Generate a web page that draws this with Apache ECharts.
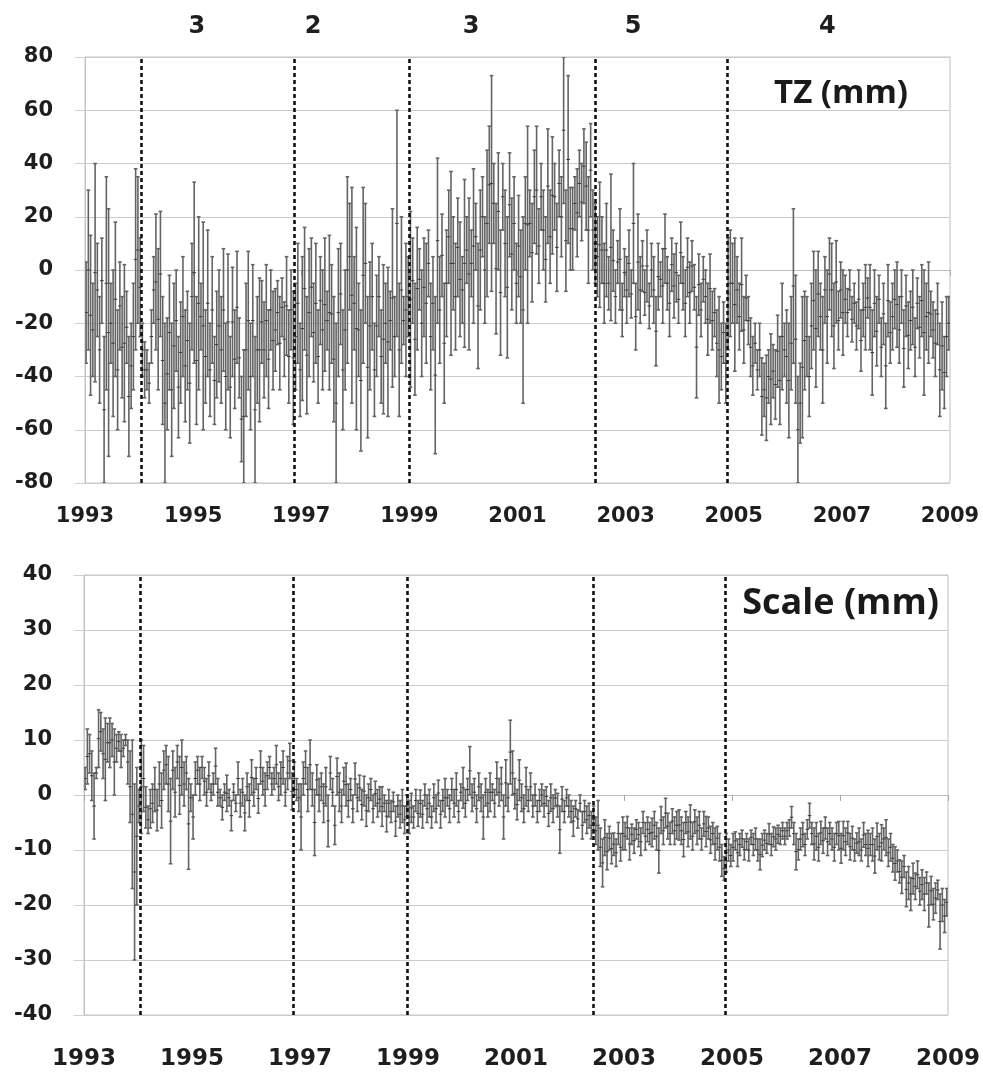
<!DOCTYPE html>
<html><head><meta charset="utf-8">
<script src="https://cdn.jsdelivr.net/npm/echarts@6/dist/echarts.min.js"></script>
<style>html,body{margin:0;padding:0;background:#fff}#c{width:983px;height:1072px}</style>
</head><body><div id="c"></div>
<script>
// ---- data ----
const START_YEAR = 1993.02;   // first observation
const STEP = 1 / 24;          // half-monthly observations

// TZ (mm): [low, high] of each error bar
const tzBars = [
[-35,3],[-30,30],[-47,13],[-40,-5],[-42,40],[-25,10],[-50,-10],[-20,12],[-80,-25],[-45,35],[-70,23],[-35,-5],
[-55,0],[-40,18],[-60,-15],[-30,3],[-48,-10],[-57,2],[-35,-8],[-70,-25],[-52,-20],[-45,-5],[-30,38],[-20,35],
[-25,12],[-40,-20],[-48,-27],[-45,-30],[-50,-35],[-35,-15],[-20,5],[-30,21],[-45,8],[-25,22],[-58,-10],[-80,-20],
[-60,-18],[-45,-2],[-70,-20],[-52,-5],[-38,0],[-63,-25],[-50,-12],[-40,5],[-57,-15],[-45,-8],[-65,-20],[-30,10],
[-35,33],[-58,-10],[-45,20],[-30,-5],[-60,18],[-50,-15],[-40,15],[-55,-20],[-35,5],[-58,-25],[-48,-8],[-42,0],
[-50,-10],[-38,8],[-60,-20],[-45,6],[-63,-25],[-40,1],[-52,-15],[-35,7],[-48,-18],[-72,-40],[-80,-30],[-55,-5],
[-45,7],[-60,-20],[-40,2],[-80,-25],[-50,-10],[-57,-3],[-35,-4],[-48,-12],[-40,2],[-52,-15],[-30,0],[-45,-8],
[-38,-7],[-28,-4],[-45,-10],[-25,-3],[-40,-12],[-32,5],[-50,-15],[-30,0],[-58,-8],[-45,-5],[-35,10],[-55,-20],
[-49,5],[-30,16],[-54,-10],[-40,8],[-25,12],[-42,-5],[-35,10],[-50,-15],[-28,5],[-45,0],[-38,12],[-30,-8],
[-45,13],[-35,2],[-57,-10],[-80,-20],[-40,8],[-28,10],[-60,-15],[-45,0],[-35,35],[-15,25],[-50,31],[-30,5],
[-60,16],[-40,-5],[-68,-15],[-35,31],[-20,25],[-63,-10],[-45,3],[-30,10],[-55,-20],[-40,-2],[-25,5],[-50,-15],
[-54,2],[-35,-5],[-55,1],[-30,-8],[-44,23],[-40,-10],[-25,60],[-55,-5],[-35,20],[-28,-10],[-40,10],[-25,5],
[-44,22],[-20,12],[-47,-5],[-30,16],[-15,8],[-40,0],[-25,12],[-35,10],[-10,15],[-45,-5],[-30,5],[-69,-10],
[-20,42],[-35,5],[-10,21],[-50,-5],[-25,15],[-5,30],[-32,37],[-15,20],[-30,10],[-10,27],[-25,18],[-20,5],
[-29,34],[-5,20],[-30,27],[-10,15],[-20,38],[0,25],[-37,10],[-15,30],[5,35],[-20,20],[-10,45],[10,54],
[-8,73],[10,40],[-24,25],[0,44],[-32,15],[15,40],[-10,30],[-33,20],[5,44],[-15,27],[0,35],[-20,10],
[-10,28],[-20,15],[-50,20],[0,35],[-20,54],[5,30],[-12,25],[10,45],[6,54],[-5,23],[15,40],[0,30],
[-12,20],[10,53],[-5,30],[6,50],[15,40],[-8,25],[20,45],[5,35],[25,80],[-8,30],[10,73],[0,31],
[0,31],[15,35],[5,38],[20,45],[11,40],[25,53],[15,48],[-5,35],[20,55],[0,30],[-5,25],[-10,20],
[-14,33],[-5,20],[-20,10],[-10,25],[-15,5],[-19,36],[-8,15],[-20,0],[-5,11],[-15,23],[-25,-5],[-10,8],
[-20,5],[-10,15],[-18,0],[-5,40],[-30,-5],[-15,21],[-20,5],[-8,11],[-17,0],[-12,15],[-22,-5],[-10,10],
[-20,5],[-36,-10],[-15,10],[-10,3],[-20,8],[-5,21],[-15,5],[-25,0],[-8,12],[-18,6],[-12,10],[-20,-2],
[-5,18],[-15,5],[-25,0],[-10,12],[-20,3],[-8,11],[-15,2],[-48,-10],[-17,6],[-25,-5],[-12,5],[-20,0],
[-32,-5],[-20,6],[-30,-8],[-25,-7],[-40,-15],[-50,-10],[-45,-20],[-35,-12],[-50,-20],[-30,12],[-25,15],[-20,10],
[-38,12],[-20,5],[-30,-5],[-23,12],[-35,-10],[-19,-2],[-28,-10],[-40,-18],[-47,-25],[-35,-20],[-45,-30],[-40,-20],
[-62,-33],[-55,-35],[-64,-32],[-50,-30],[-58,-24],[-48,-28],[-56,-30],[-44,-17],[-58,-25],[-45,-5],[-40,-20],[-50,-15],
[-63,-20],[-45,-10],[-35,23],[-50,-2],[-80,-40],[-65,-35],[-63,-10],[-45,-8],[-40,-10],[-55,-25],[-37,-5],[-30,7],
[-44,0],[-25,7],[-30,-5],[-50,-10],[-20,5],[-35,0],[-15,12],[-25,10],[-37,-5],[-20,11],[-30,-8],[-18,3],
[-32,0],[-20,-2],[-25,-7],[-15,0],[-27,-10],[-20,-5],[-30,-12],[-22,0],[-38,-15],[-25,-5],[-30,2],[-18,-3],
[-30,2],[-47,-15],[-25,0],[-36,-10],[-20,-2],[-40,-18],[-28,-5],[-52,-20],[-25,2],[-35,-12],[-30,-5],[-22,0],
[-29,3],[-35,-10],[-20,0],[-44,-15],[-25,-2],[-37,-12],[-30,-8],[-28,0],[-40,-18],[-22,-3],[-33,-10],[-25,2],
[-47,0],[-30,-5],[-35,3],[-25,-8],[-33,-12],[-40,-15],[-28,-5],[-55,-20],[-45,-12],[-52,-25],[-40,-10],[-30,-10]
];

// Scale (mm): [low, high] of each error bar
const scaleBars = [
[1,5],[2,12],[4,11],[-1,8],[-8,4],[3,5],[5,15.5],[8,15],[3,12],[-1,14],[6,13],[5,14],
[7,13],[0,12],[6,11],[8,11.5],[5,11],[7,10],[9,11],[2,10],[-5,8],[-17,10],[-30,2],[-20,5],
[-5,1],[-7,10],[-3,9],[-6,1.5],[-7,-2],[-6,1],[-5,2],[-3,5],[-6.5,1],[-2,6],[-6,4],[1,8],
[2,9],[-3,7],[-12.5,3],[1,8],[-4,5],[3,9],[-3.5,7],[0,10],[-2,6],[1,7],[-13.5,3],[-3,2],
[-8,0],[0,6],[2,7],[-1,5],[3,7],[0,5],[-2,3],[1,6],[-1,2],[0,4],[2,8.5],[-2,3],
[-2,1],[-4.5,0],[-1,2],[-3,3.6],[-2,1],[-6.5,-1],[-1,2],[-3,0],[0,6],[-4,1],[-2,3],[-6.5,0],
[-1,4],[-4,2],[0,6.4],[-2,3],[1,5],[-3.3,2],[2,8],[0,5],[-2,4],[1,6],[3,7],[0,4],
[1,5],[2,9],[-1,4],[0,6],[2,8],[-2,3],[1,7],[3,9.4],[-2.7,4],[0,6],[-1,3],[-3,2],
[-10,2],[0,6],[2,8],[-3,5],[1,10],[-2,4],[-11,1],[0,5.5],[-3,3],[-1,4],[-5,2],[-2,5],
[-9.4,0],[1,7],[-2,3],[-9,-2],[0,6.7],[-3,4],[-5,1],[0,5],[-2,5.8],[-4,2],[-1,3],[-5,0],
[0,5.8],[-3,2],[-1,3.6],[-4.5,1],[-2,3.4],[-5.7,0],[-3,2],[-1,3],[-5,0],[-2,2.5],[-4,1],[-3,1.5],
[-5.7,1.5],[-3,0],[-6.7,-1],[-4,1],[-5,-1],[-3,0.5],[-7.5,-2],[-4,0],[-6,-1],[-5,1],[-7,-2],[-4,0],
[-7,-1],[-5,0.3],[-6,-2],[-3,1],[-5.7,-1],[-4,0.9],[-6,-1],[-2,2],[-5,0],[-4,1],[-6,-2],[-3,2],
[-5,0],[-2,2.7],[-6,-1],[-3,1],[-4,3],[-2,1],[-5,0],[-1,3],[-4,1],[-2,4],[-5,-1],[-1,2],
[-2.4,5],[-4,1],[-1,3],[0,8.8],[-3,2],[-2,3],[-5,0],[-1,4],[-3,2],[-8,0],[-2,3],[-4,1],
[-3,4],[-1,2],[-4,1],[0,6],[-2,3],[-1,5],[-8,0],[-2,6.4],[-3,2],[2,13.6],[0,8],[-2.5,3],
[-4.5,1],[-1,6.4],[-3,2],[-5,0],[-2,5],[-3,1],[-1,4],[-4,0],[-2,2],[-5,-1],[-3,1],[-2,2],
[-4,0.9],[-2,1.5],[-5.7,-1],[-3,2],[-5,0],[-2.1,1],[-4,0.3],[-10.6,-2],[-3,1.5],[-5,-1],[-2,1],[-4,0],
[-5,-1],[-7.5,-2],[-4,-1],[-6,-2.7],[-3,0],[-8,-3],[-5,-1],[-7,-2],[-6,-1.5],[-8,-3],[-7,-2],[-9,-4],
[-10,-1],[-13,-6],[-16.7,-8],[-11,-4.5],[-13.6,-7],[-10,-5.7],[-12.5,-7],[-11,-6.9],[-13,-8],[-9,-5],[-12,-7],[-10,-4],
[-10,-5],[-8,-3.9],[-11.8,-6],[-9,-5.3],[-10.6,-6],[-8,-4.5],[-9.4,-5],[-11,-6],[-7,-3],[-10,-5],[-8.5,-4],[-9,-5],
[-9.4,-4.2],[-8,-3],[-10,-5],[-14.2,-6],[-7,-2.1],[-9,-4],[-6,-0.6],[-8,-3.3],[-9,-5],[-7,-2.5],[-9,-4],[-8,-3],
[-8.2,-2.7],[-9,-4],[-11.2,-5],[-7,-3],[-9.4,-4],[-8,-1.8],[-10,-5],[-7,-2.7],[-9,-4],[-8,-3],[-10,-6],[-7.5,-3],
[-9.4,-3.9],[-8,-4],[-10.6,-5.7],[-9,-5],[-11.8,-6],[-10,-5.7],[-12,-7],[-14.8,-9],[-15.5,-11.2],[-14,-7],[-12,-8],[-13,-9],
[-12,-7],[-10,-6.7],[-13,-8],[-11,-7],[-9.5,-6.4],[-11.8,-8],[-10,-7],[-12,-8],[-9,-6.4],[-11,-7],[-10,-6],[-12,-8],
[-13.6,-8],[-11.2,-7],[-10,-6.4],[-10.6,-7],[-9,-5.2],[-11,-7],[-9.4,-5.8],[-10,-6],[-8.8,-5.5],[-9,-6],[-8,-5],[-9,-6],
[-8,-5],[-7.5,-4.5],[-6,-2.1],[-9,-5],[-13.6,-7],[-11.8,-8],[-10,-6],[-9.4,-5],[-11,-7],[-8,-4.5],[-6,-1.5],[-9,-5],
[-11.8,-6],[-10,-5],[-12,-7],[-9,-4.8],[-10.6,-6],[-8,-4],[-11,-6],[-9,-5],[-10,-6],[-12,-7],[-9,-5],[-10,-4.8],
[-12.4,-7],[-10,-4.8],[-11,-6],[-9,-4.8],[-11.8,-7],[-10,-5.7],[-12,-8],[-10.6,-6.9],[-11,-6],[-12,-8],[-9.5,-5],[-11,-7],
[-13,-6.4],[-11,-7],[-12,-6],[-14.2,-8],[-10,-5.1],[-11.8,-7],[-12,-5.4],[-10,-6],[-11,-4.5],[-13,-8],[-12,-7],[-14,-9],
[-15.5,-9.4],[-14,-10],[-16,-11.8],[-17.9,-12],[-15,-11],[-20.3,-14],[-19,-13],[-21,-15],[-18,-12.4],[-19,-14.2],[-17,-12],[-20,-15],
[-19,-13.6],[-21,-15],[-18,-14],[-24,-16],[-20,-14.8],[-22.7,-17],[-21.5,-16],[-19,-15.5],[-28,-18],[-23,-17],[-25,-19],[-22,-17]
];

const breakYears = [1994.04, 1996.87, 1998.99, 2002.43, 2004.88];
const segLabels = ['3', '2', '3', '5', '4'];
const segLabelYears = [1995.07, 1997.22, 2000.14, 2003.14, 2006.73];
const panelTitles = ['TZ (mm)', 'Scale (mm)'];

// ---- chart ----
function toSeriesData(bars) {
  return bars.map((b, i) => [START_YEAR + i * STEP, b[0], b[1]]);
}

function errRender(params, api) {
  const x = api.value(0), lo = api.value(1), hi = api.value(2);
  const pLo = api.coord([x, lo]);
  const pHi = api.coord([x, hi]);
  const pMid = api.coord([x, (lo + hi) / 2]);
  const w = 1.8;
  const st = { stroke: '#646464', lineWidth: 1.6 };
  return {
    type: 'group',
    children: [
      { type: 'line', shape: { x1: pLo[0], y1: pLo[1], x2: pHi[0], y2: pHi[1] }, style: st },
      { type: 'line', shape: { x1: pLo[0] - w, y1: pLo[1], x2: pLo[0] + w, y2: pLo[1] }, style: st },
      { type: 'line', shape: { x1: pHi[0] - w, y1: pHi[1], x2: pHi[0] + w, y2: pHi[1] }, style: st },
      { type: 'line', shape: { x1: pMid[0] - w, y1: pMid[1], x2: pMid[0] + w, y2: pMid[1] }, style: { stroke: '#3a3a3a', lineWidth: 1 } }
    ]
  };
}

const numFont = { fontFamily: 'DejaVu Sans', fontWeight: 'bold', color: '#1e1e1e' };

function xAxisCfg(gi, fs, margin) {
  return {
    type: 'value', gridIndex: gi, min: 1993, max: 2009, interval: 2,
    axisLine: { show: true, lineStyle: { color: '#bfbfbf', width: 1 } },
    axisTick: { show: true, length: 6, lineStyle: { color: '#a8a8a8' } },
    splitLine: { show: false },
    axisLabel: Object.assign({ fontSize: fs, margin: margin, formatter: v => String(v) }, numFont)
  };
}
function yAxisCfg(gi, min, max, interval) {
  return {
    type: 'value', gridIndex: gi, min: min, max: max, interval: interval,
    axisLine: { show: true, lineStyle: { color: '#c4c4c4' } },
    axisTick: { show: true, length: 10, lineStyle: { color: '#d0d0d0' } },
    splitLine: { show: true, lineStyle: { color: '#cccccc', width: 1.2 } },
    axisLabel: Object.assign({ fontSize: 21, margin: 32 }, numFont)
  };
}
function markLines() {
  return {
    silent: true, symbol: ['none', 'none'], animation: false,
    label: { show: false },
    lineStyle: { color: '#111', type: [4, 3], width: 2.6 },
    data: breakYears.map(v => ({ xAxis: v }))
  };
}

const chart = echarts.init(document.getElementById('c'), null, { renderer: 'canvas' });
chart.setOption({
  animation: false,
  backgroundColor: '#ffffff',
  grid: [
    { left: 85, right: 33, top: 57, height: 426, show: true, borderColor: '#c0c0c0', borderWidth: 1 },
    { left: 84, right: 31, top: 575, height: 440, show: true, borderColor: '#c0c0c0', borderWidth: 1 }
  ],
  xAxis: [xAxisCfg(0, 21, 23), xAxisCfg(1, 23, 33)],
  yAxis: [yAxisCfg(0, -80, 80, 20), yAxisCfg(1, -40, 40, 10)],
  title: [
    { text: panelTitles[0], right: 70, top: 72, textStyle: { fontFamily: 'Open Sans', fontWeight: 'bold', fontSize: 33, color: '#1a1a1a' } },
    { text: panelTitles[1], right: 39, top: 581, textStyle: { fontFamily: 'Open Sans', fontWeight: 'bold', fontSize: 36, color: '#1a1a1a' } }
  ],
  series: [
    { type: 'custom', xAxisIndex: 0, yAxisIndex: 0, renderItem: errRender, data: toSeriesData(tzBars), clip: true, markLine: markLines() },
    { type: 'custom', xAxisIndex: 1, yAxisIndex: 1, renderItem: errRender, data: toSeriesData(scaleBars), clip: true, markLine: markLines() }
  ]
});

// segment numbers above the top panel, placed through the x scale
const segGraphics = segLabels.map((t, i) => {
  const px = chart.convertToPixel({ xAxisIndex: 0 }, segLabelYears[i]);
  return {
    type: 'text', x: px, y: 27,
    style: { text: t, fontFamily: 'DejaVu Sans', fontWeight: 'bold', fontSize: 24, fill: '#1e1e1e', align: 'center', verticalAlign: 'middle' }
  };
});
chart.setOption({ graphic: segGraphics });
</script>
</body></html>
